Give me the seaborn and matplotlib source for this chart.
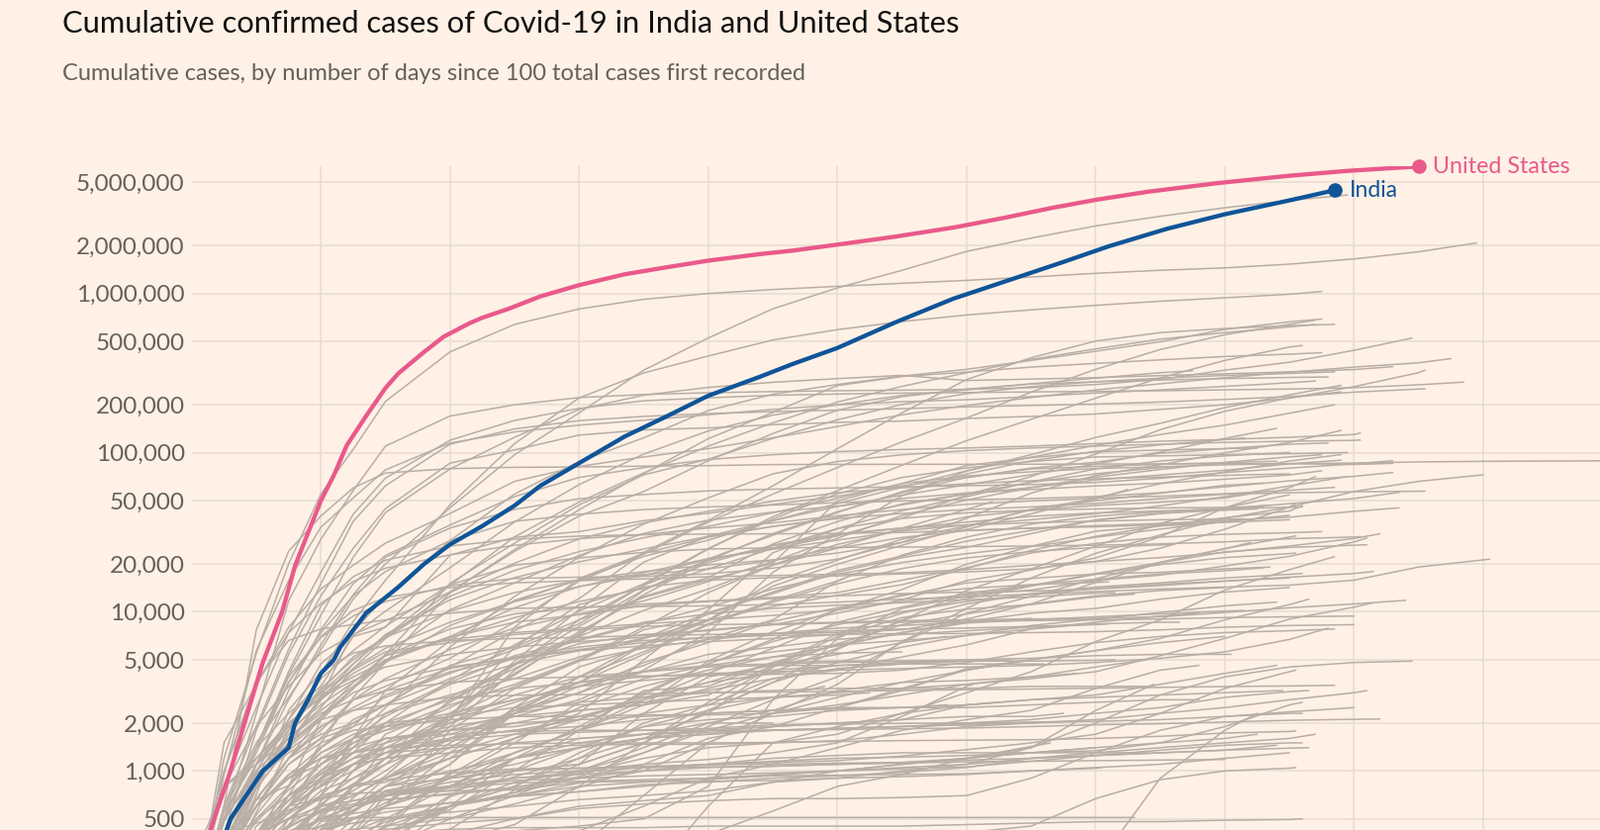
import matplotlib
matplotlib.use("Agg")
import matplotlib.pyplot as plt
import matplotlib.ticker as mticker
import seaborn as sns
import pandas as pd

# ---------------- text ----------------
title_text = "Cumulative confirmed cases of Covid-19 in India and United States"
subtitle_text = "Cumulative cases, by number of days since 100 total cases first recorded"

y_ticks = [500, 1000, 2000, 5000, 10000, 20000, 50000, 100000, 200000,
           500000, 1000000, 2000000, 5000000]
y_tick_labels = ["500", "1,000", "2,000", "5,000", "10,000", "20,000", "50,000",
                 "100,000", "200,000", "500,000", "1,000,000", "2,000,000", "5,000,000"]
x_grid_days = [20, 40, 60, 80, 100, 120, 140, 160, 180, 200]

# ---------------- highlighted series ----------------
us_days = [0, 3, 6, 8, 11, 14, 16, 20, 22, 24, 27, 30, 32, 36, 39, 43, 45, 49, 54, 60,
           67, 73, 80, 88, 93, 100, 109, 118, 126, 133, 140, 148, 159, 170, 179, 190]
us_cases = [100, 440, 1000, 1900, 4800, 10000, 19500, 50000, 72000, 111000, 170000,
            255000, 315000, 430000, 535000, 650000, 705000, 800000, 960000, 1130000,
            1320000, 1450000, 1610000, 1770000, 1860000, 2030000, 2280000, 2600000,
            3000000, 3440000, 3880000, 4360000, 4950000, 5500000, 5900000, 6290000]

india_days = [0, 6, 11, 15, 16, 18, 20, 22, 23, 27, 32, 36, 40, 45, 50, 54, 60, 67, 73,
              80, 88, 93, 100, 109, 118, 127, 135, 142, 151, 160, 170, 177]
india_cases = [100, 500, 1000, 1400, 2000, 2800, 4100, 5000, 6000, 9800, 14300, 20000,
               26500, 34600, 46500, 62000, 86000, 126000, 165000, 228000, 300000,
               360000, 455000, 660000, 930000, 1230000, 1580000, 1980000, 2550000,
               3150000, 3850000, 4460000]

# ---------------- other countries (thousands of cases) ----------------
# values at grid_days, last value is at the country's final day
grid_days = [0, 5, 10, 15, 20, 25, 30, 40, 50, 60, 70, 80, 90, 100, 110, 120, 130,
             140, 150, 160, 170, 180, 190, 200, 210, 220]

eu = [0.1,1.2,5.5,20,55,105,210,430,640,800,920,1000,1060,1110,1160,1210,1270,1340,1400,1450,1530,1650,1830,2080]
brazil = [0.1,0.6,1.5,2.9,5.8,12,20,45,97,178,330,526,802,1085,1400,1840,2230,2660,3060,3460,3850,4160]
russia = [0.1,0.3,0.8,1.8,4.1,8.7,15.8,47,114,221,317,405,511,593,667,733,790,843,895,940,990,1030]
spain = [0.1,0.5,2.3,11.7,28.6,57.8,110,170,200,222,232,238,242,245,247,250,256,268,289,330,370,440,525]
italy = [0.15,0.82,2.5,7.4,17.7,41,69.2,119.8,159.5,189.9,211.9,221.2,229.3,233.5,236.6,238.8,240.8,242.8,245,248.1,251.2,256.1,266.9,277.6]
france = [0.1,0.4,1.8,5.4,12.6,25,44.5,86,104,129,139,143,150,155,158,164,169,175,187,200,220,260,318,330]
iran = [0.1,1.5,3.5,8.0,13.9,19.6,27,41.5,66,82,94,106,124,146,173,198,222,248,271,296,320,345,367,390]
uk = [0.1,0.5,1.4,4,9.5,22,42,79,125,187,230,257,277,292,306,284,290,296,305,313,322,333,347]
germany = [0.12,0.8,1.9,5.8,15,37,62,113,141,159,169,176,181,185,189,194,198,202,208,216,225,240,251,252]
turkey = [0.1,0.95,5.7,15.7,34,52,78,115,135,149,160,173,187,200,209,215,225,237,248,261,275,282]
chile = [0.1,0.6,1.9,3.4,5.5,7.2,8.8,13.3,24.6,43.8,74,122.5,179,264,301,321,345,364,383,402,416,425]
mexico = [0.12,0.32,0.85,1.5,2.8,4.7,7.0,14.7,29.6,49,74.6,110,154,208,261,318,385,449,517,568,617,640]
peru = [0.12,0.4,0.95,1.4,2.9,7.5,12.5,28,55,88,124,184,233,268,303,334,380,434,498,595,664,691]
colombia = [0.1,0.3,0.6,1.1,1.6,2.8,3.4,5.1,8.6,15.6,23,36.6,54.9,80.6,117,165,240,334,445,551,641,680]
south_africa = [0.1,0.4,0.9,1.3,1.7,2.0,2.6,4.5,7.6,12.1,23.6,37.5,61.9,106,178,288,395,503,568,603,628,640]
argentina = [0.13,0.5,0.97,1.35,1.9,2.4,2.9,4.1,5.8,8.4,14.7,24.8,39.6,57.7,83.4,119,162,220,295,380,461,472]
saudi = [0.1,0.27,0.77,1.45,2.2,3.3,5.4,15.1,27,47,72.6,91,123,161,201,235,260,279,294,306,315,322]
pakistan = [0.19,0.8,1.2,1.9,3.3,5.0,6.9,13.3,24,40,57,89,132,185,225,251,270,279,286,292,297,299]
bangladesh = [0.12,0.33,1.0,2.1,4.7,7.1,10.1,18.9,36.7,63,98,137,172,200,229,248,271,294,318,327]
qatar = [0.26,0.4,0.47,0.54,0.7,1.6,2.5,6.0,12.5,22,35.6,52,73.6,88,97,103,107,110,113,116,118,119.5,120]
belgium = [0.17,0.4,1.1,2.8,6.2,12.8,22,33.6,44,51.4,54.6,57.5,59,60,61,62,63,65,69,75,80,85,89]
netherlands = [0.13,0.5,1.4,3.6,7.4,12.6,17.9,28,37,41,43.9,45.6,46.9,48.5,49.7,50.6,51.5,53,56,61,66.5,71,75]
sweden = [0.1,0.5,1.0,1.6,2.5,4.4,6.8,12.5,18.2,23.9,29.2,34.4,41.9,51.6,63.9,71.4,75.8,79.5,81.5,83.9,85.4,84.3,85.7]
switzerland = [0.1,0.5,1.4,4.2,10.9,16.6,21.1,25.9,28.6,29.9,30.5,30.8,30.9,31.1,31.5,32.5,33.6,34.8,35.9,37.4,39.3,42.8,45]
canada = [0.1,0.4,1.1,3.2,7.7,15,22.6,35.1,53,69.9,80.5,90.5,97.1,101.6,104.7,107,110,114,118,121,125,130,133]
portugal = [0.17,1.0,3.5,7.4,11.3,15.5,18.8,22.8,26.2,28.8,30.6,33.6,36.2,40.1,43.9,47.4,49.7,51.8,53.2,55.2,58,60.5]
israel = [0.13,0.57,1.4,3.9,6.9,9.4,11.6,14.6,16.2,16.5,16.7,17.3,18.8,21.4,27.3,38.7,55.7,71.9,84,99.8,116,138]
philippines = [0.11,0.22,0.55,1.4,3.0,3.9,4.9,6.9,9.2,11.6,14,18.6,25,30,38.8,54.2,70.8,98,139.5,182,221,241]
indonesia = [0.12,0.37,0.79,1.4,2.1,3.3,4.8,8.2,11.6,16,22.3,28.2,37.4,47.9,60.7,76.9,93.7,111,130,149,177,200]
iraq = [0.11,0.16,0.32,0.55,0.82,1.1,1.4,1.7,2.2,2.8,4.3,7.4,17.7,30.9,53.7,76.6,97.2,124.6,153,192,231,265]
ukraine = [0.11,0.48,1.1,1.9,3.1,4.7,7.2,11.9,16.4,20.6,24.8,29.8,37.4,45.9,54.1,62.9,72.7,84.7,101,123,142]
egypt = [0.11,0.2,0.37,0.54,0.87,1.3,2.0,3.7,6.2,10.1,15,25,38.3,55.2,69.8,80.2,88,94,95.5,97,98.5,100.2]
kazakhstan = [0.11,0.34,0.66,0.81,1.4,2.0,2.6,4.6,6.0,8.9,12.3,15.9,20.2,49.7,64,83,93,101,104,106,106.7]
oman = [0.1,0.15,0.25,0.37,0.6,1.0,1.7,2.5,4.0,7.3,12.8,21,31,42.5,56,70,79,82,84.5,86.6,88.3]
kuwait = [0.1,0.13,0.19,0.25,0.42,0.8,1.4,2.2,4.9,10.3,20.5,29.9,34.4,39.1,47,54.9,60.4,67.4,72.4,77.5,85,89.7]
uae = [0.11,0.2,0.4,0.8,2.1,3.3,5.4,10.3,15.2,22.6,31.1,37.6,42.3,46.1,51.5,55.8,58.6,61.8,64.3,68.1,72.4,76.9]
ecuador = [0.11,0.5,1.4,2.3,3.4,7.0,8.0,22.7,29.4,31.9,37.4,41.6,47.3,53.2,61.9,69.6,80,87,99.3,106,113,115]
bolivia = [0.11,0.16,0.21,0.35,0.52,0.8,1.1,2.3,4.1,7.1,13.6,21.5,30.3,42.1,56.8,73.5,88.9,102,112,121,124]
dominican = [0.11,0.3,1.1,1.8,2.6,3.6,5.0,7.0,10.6,14.4,16.9,21.4,25.1,33.4,43.1,52.9,65.6,79,88.6,95.5,100.4]
panama = [0.11,0.3,0.67,1.2,1.8,2.8,3.8,5.8,7.9,9.7,11.7,15.5,20.7,29,40.3,50.4,60.3,70.2,78.4,86.9,94.1,97.1]
guatemala = [0.13,0.18,0.26,0.4,0.56,0.75,1.0,1.9,4.3,7.5,12.5,16.4,26.7,36.9,47.6,55.3,65,73.7,80.5,81.7]
honduras = [0.1,0.2,0.3,0.36,0.41,0.5,0.63,1.1,2.3,3.9,6.3,8.9,15.4,21.1,28.6,34.6,43.8,49.9,55.6,62.4,64.4]
costa_rica = [0.11,0.2,0.35,0.45,0.56,0.62,0.66,0.72,0.79,0.91,1.0,1.5,2.3,3.5,6.5,10.5,16.3,23.3,30.4,38.7,45.5,47.8]
australia = [0.11,0.25,0.71,2.4,4.2,5.5,6.1,6.6,6.8,6.9,7.1,7.2,7.3,7.4,7.7,9.0,11.2,15.3,20.3,23.8,25.4,26.2,26.4]
japan = [0.1,0.16,0.25,0.46,0.62,0.83,1.1,2.2,6.0,11.1,14.3,15.8,16.4,16.8,17.3,17.8,18.6,20.7,25.1,33,45.5,57,66,72.6]
south_korea = [0.1,0.98,3.7,6.6,7.8,8.3,8.9,9.8,10.5,10.7,10.8,10.9,11.1,11.5,12.0,12.4,12.9,13.4,13.9,14.3,14.7,15.8,19.1,21.2,21.4]
china = [0.1,0.6,7.7,24,40,60,74.5,79.4,80.9,81.3,82.3,82.9,84.2,84.4,84.5,84.5,84.6,84.8,85.0,85.2,85.3,86.0,87.5,88.2,88.6,88.9,89.2]
singapore = [0.11,0.13,0.17,0.24,0.43,0.68,0.93,2.1,8.0,16.2,23.3,29.4,34.4,38.5,41.5,43.9,45.6,47.9,51.5,54.8,56,56.8,57.2,57.3]
austria = [0.1,0.5,1.3,3.6,7.0,10.2,12.3,14.2,15.2,15.7,16.1,16.6,16.9,17.2,17.6,18.4,19.6,20.7,21.9,23.6,25.9,28.9,30.9]
denmark = [0.26,0.8,1.1,1.6,2.4,3.4,4.9,6.9,8.6,9.6,10.9,11.6,12.1,12.6,13.0,13.3,13.5,13.9,14.6,15.6,16.5,17.4,17.9]
norway = [0.1,0.4,1.1,1.9,3.1,4.3,5.6,6.4,7.2,7.7,8.1,8.3,8.4,8.6,8.8,8.9,9.0,9.1,9.3,9.9,10.6,11.2,11.8]
ireland = [0.13,0.37,1.1,2.1,3.8,5.7,8.1,14.8,19.6,21.8,23.6,24.8,25.2,25.4,25.5,25.7,25.9,26.2,26.7,27.5,28.8,29.5,29.7]
poland = [0.1,0.4,0.9,2.0,2.9,4.4,5.9,8.6,11.6,14.4,17.6,21.6,24.7,28.2,32.2,35.1,37.9,41.4,46.3,52.9,61.8,70.8]
romania = [0.12,0.3,0.8,1.8,3.2,5.2,6.9,10.1,13.2,15.8,17.9,19.7,21.2,23.4,27.3,32.9,41.3,52.2,63.8,75.7,88.6,97.3]
czechia = [0.1,0.3,0.8,1.7,2.8,4.1,5.3,6.7,7.4,7.9,8.4,8.9,9.5,10.3,11.6,12.8,13.7,15.7,17.0,19.4,22.3,27.5,29.1]
serbia = [0.1,0.25,0.66,1.2,2.2,3.6,5.3,7.8,9.7,10.6,11.2,11.7,12.3,13.2,15.8,18.9,23.4,26.9,29.5,30.7,31.4,31.9]
belarus = [0.1,0.15,0.3,0.7,1.5,2.9,4.8,13.2,20.2,28.7,36.2,42.8,49.5,56.0,60.1,63.8,66.6,68.5,70.3,72.0,73.6]
moldova = [0.1,0.2,0.4,0.8,1.4,2.1,2.6,3.8,5.1,6.6,8.4,10.7,13.9,17.2,20.4,23.2,25.7,29.4,33.1,36.8,40.4]
morocco = [0.1,0.2,0.4,0.65,1.1,1.6,2.2,3.5,4.7,6.3,7.2,7.6,8.3,9.8,11.9,15.7,18.3,21.8,29.6,45.1,60.2,70.7]
algeria = [0.1,0.26,0.6,1.2,1.6,1.9,2.3,3.0,3.8,5.2,6.8,8.9,10.8,12.7,14.8,18.7,24.3,29.8,34.7,39.0,43.0,46.4]
nigeria = [0.11,0.2,0.3,0.35,0.5,0.8,1.2,2.8,4.4,7.0,10.2,13.9,19.8,26.5,32.6,39.5,43.5,46.6,48.8,51.9,55.2]
ghana = [0.14,0.17,0.26,0.38,0.6,1.0,1.3,2.1,4.7,5.7,6.8,9.9,13.0,17.7,21.9,25.4,31.0,37.8,41.7,43.5,44.3]
kenya = [0.11,0.17,0.2,0.25,0.3,0.35,0.4,0.7,1.2,1.9,3.1,4.7,6.7,10.3,13.8,19.9,25.8,32.1,34.7,35.6]
ethiopia = [0.1,0.11,0.13,0.2,0.26,0.4,0.6,1.3,2.5,4.5,6.0,8.8,14.5,19.9,26.2,34.1,44.1,51.1,58.7]
cameroon = [0.1,0.14,0.23,0.5,0.68,0.8,0.85,1.2,2.3,3.1,4.8,6.4,8.7,10.6,12.6,15.2,16.2,17.3,17.7,18.6,19.1]
senegal = [0.1,0.12,0.19,0.26,0.29,0.34,0.44,0.95,1.6,2.5,3.4,4.3,5.2,6.1,7.4,8.7,9.8,10.5,12.0,13.3,14.2]
ivory_coast = [0.1,0.17,0.26,0.44,0.57,0.7,0.9,1.3,1.7,2.2,2.8,4.1,5.9,8.6,10.7,13.0,14.8,16.0,17.3,18.1,18.9]
dr_congo = [0.1,0.15,0.18,0.24,0.29,0.33,0.4,0.57,1.0,1.8,2.8,3.6,4.8,6.2,7.4,8.5,8.9,9.3,9.7,10.1,10.2]
madagascar = [0.1,0.12,0.13,0.19,0.24,0.3,0.46,0.98,1.3,1.8,2.6,4.9,7.5,10.3,12.8,14.0,14.8,15.3,15.4]
sudan = [0.1,0.16,0.3,0.45,0.9,1.4,2.3,3.6,5.3,6.7,8.6,9.7,10.5,11.0,11.4,11.9,12.4,13.1,13.2]
zambia = [0.1,0.11,0.12,0.14,0.27,0.45,0.75,0.92,1.1,1.4,1.6,2.3,4.5,7.0,9.2,10.4,11.1,12.4,12.9]
uganda = [0.1,0.14,0.2,0.26,0.42,0.6,0.7,0.85,0.95,1.0,1.1,1.18,1.3,1.5,2.2,3.4,3.5]
mozambique = [0.1,0.12,0.14,0.2,0.23,0.25,0.3,0.6,0.73,0.9,1.1,1.6,1.9,2.5,3.3,4.3,4.9]
zimbabwe = [0.1,0.13,0.17,0.22,0.31,0.38,0.48,0.6,0.73,1.1,2.3,3.9,4.6,5.4,6.4,7.0]
namibia = [0.1,0.13,0.2,0.3,0.54,0.8,1.2,2.2,3.4,4.9,7.7,8.5]
nepal = [0.1,0.22,0.3,0.45,0.9,1.6,3.2,6.6,11.8,15.9,17.1,18.6,21,25.3,33.5,44,49.2]
sri_lanka = [0.1,0.12,0.16,0.19,0.2,0.24,0.33,0.69,0.92,1.2,1.6,1.8,1.9,2.0,2.1,2.6,2.8,2.9,3.0,3.1,3.2]
vietnam = [0.1,0.14,0.2,0.24,0.26,0.27,0.27,0.27,0.29,0.32,0.33,0.34,0.35,0.37,0.38,0.41,0.45,0.67,0.88,1.0,1.04,1.05]
thailand = [0.11,0.32,0.93,1.5,2.1,2.4,2.6,2.9,2.99,3.02,3.05,3.1,3.13,3.16,3.2,3.24,3.27,3.31,3.35,3.39,3.42,3.45]
malaysia = [0.13,0.55,1.2,2.0,2.9,3.7,4.5,5.4,6.0,6.5,6.9,7.7,8.3,8.5,8.6,8.7,8.8,8.9,9.0,9.2,9.3,9.4]
new_zealand = [0.1,0.28,0.6,0.95,1.2,1.3,1.4,1.45,1.48,1.5,1.5,1.5,1.51,1.53,1.55,1.56,1.57,1.6,1.65,1.73,1.77,1.78]
iceland = [0.1,0.2,0.45,0.65,0.96,1.3,1.6,1.7,1.77,1.8,1.8,1.8,1.8,1.82,1.84,1.86,1.9,1.95,1.98,2.03,2.08,2.11,2.12]
greece = [0.1,0.23,0.5,0.8,1.3,1.7,2.0,2.2,2.5,2.6,2.7,2.8,2.9,3.1,3.3,3.5,3.8,4.2,5.3,6.8,9.0,10.7,11.4]
finland = [0.1,0.3,0.6,1.2,1.9,2.5,3.2,4.4,5.2,6.0,6.6,6.9,7.1,7.2,7.3,7.3,7.4,7.5,7.7,8.0,8.2,8.3]
hungary = [0.1,0.2,0.4,0.6,1.0,1.5,2.0,2.8,3.3,3.6,3.9,4.1,4.2,4.3,4.4,4.5,4.6,4.8,5.1,5.6,6.7,7.9]
croatia = [0.1,0.3,0.6,1.1,1.5,1.8,1.9,2.1,2.2,2.2,2.25,2.25,2.3,2.5,3.2,4.4,5.0,5.7,6.8,8.9,11.1,12.0]
bulgaria = [0.1,0.2,0.4,0.5,0.75,0.9,1.1,1.6,2.0,2.4,2.6,3.3,4.2,5.9,8.9,11.2,13.0,14.3,15.2,16.3,17.2,17.4]
bosnia = [0.1,0.3,0.5,0.7,1.0,1.3,1.5,1.9,2.2,2.4,2.6,3.0,4.6,7.3,9.8,12.1,14.5,17.2,19.8,21.9,23.2,23.4]
north_macedonia = [0.1,0.2,0.4,0.6,0.9,1.2,1.4,1.6,1.8,2.1,3.0,4.7,6.5,8.3,10.0,11.6,12.9,14.0,14.9,15.6,16.3]
albania = [0.1,0.2,0.3,0.4,0.5,0.6,0.7,0.8,1.0,1.1,1.5,2.4,3.6,4.8,6.0,7.1,8.2,9.0,9.9,10.9,11.5]
armenia = [0.1,0.3,0.6,0.9,1.1,1.4,1.9,2.9,4.6,8.9,14.7,21.0,26.0,30.3,33.6,36.6,39.8,41.8,43.0,44.3,45.4,45.6]
azerbaijan = [0.1,0.27,0.6,0.9,1.3,1.6,1.8,2.6,3.5,5.0,8.0,13.2,19.6,25.1,29.3,32.4,33.5,34.2,35.2,36.5,37.9]
kyrgyzstan = [0.1,0.2,0.3,0.4,0.6,0.7,0.9,1.2,1.6,2.3,5.0,10.3,23.5,33.3,38.6,41.9,43.5,44.3,44.9,45.3,45.6]
uzbekistan = [0.1,0.2,0.4,0.6,1.2,1.6,1.9,2.3,2.8,3.4,4.6,6.8,8.9,15.6,22.7,29.5,35.6,39.9,42.5,44.7,46.8]
afghanistan = [0.1,0.2,0.3,0.5,0.7,1.1,1.5,2.7,4.7,8.1,13.7,20.3,26.3,30.9,33.6,35.1,36.3,37.1,37.9,38.2,38.4]
lebanon = [0.1,0.25,0.4,0.5,0.55,0.6,0.66,0.71,0.78,0.96,1.2,1.4,1.5,1.7,2.3,3.1,4.2,6.5,8.9,13.7,18.4,22.2]
jordan = [0.1,0.2,0.27,0.35,0.4,0.43,0.45,0.5,0.62,0.79,1.05,1.1,1.15,1.2,1.22,1.25,1.3,1.34,1.5,1.9,2.6,2.7]
bahrain = [0.1,0.2,0.23,0.33,0.45,0.57,0.69,1.1,2.5,3.6,6.2,9.7,13.3,18.2,22.4,27.8,32.5,37.6,41.4,44.2,47.8,51.5,56.3]
tunisia = [0.1,0.22,0.39,0.57,0.66,0.82,0.88,0.97,1.03,1.04,1.07,1.09,1.13,1.16,1.24,1.36,1.5,1.7,2.3,3.3,4.2,4.3]
cuba = [0.1,0.2,0.35,0.6,0.8,1.0,1.3,1.6,1.8,1.9,2.1,2.3,2.4,2.45,2.5,2.6,2.8,3.0,3.5,4.1,4.6]
venezuela = [0.1,0.13,0.17,0.18,0.2,0.26,0.3,0.36,0.46,0.8,1.5,2.4,3.6,5.8,8.8,13.6,18.6,25.8,36.0,45.0,54.4]
paraguay = [0.1,0.13,0.16,0.2,0.21,0.22,0.24,0.43,0.76,0.92,1.3,1.9,2.8,3.9,6.4,9.8,12.5,16.1,20.5,24.8,27.3]
uruguay = [0.1,0.19,0.34,0.42,0.49,0.54,0.58,0.63,0.69,0.74,0.82,0.85,0.9,0.93,0.98,1.05,1.2,1.3,1.4,1.5,1.6,1.7]
el_salvador = [0.1,0.14,0.2,0.27,0.37,0.56,0.8,1.5,2.4,3.6,5.4,8.3,11.5,15.0,18.7,21.8,23.9,25.4,26.3,26.5]
haiti = [0.1,0.12,0.15,0.2,0.3,0.45,0.6,1.8,3.3,4.9,5.9,6.7,7.3,7.6,7.8,7.9,8.1,8.3,8.4]
jamaica = [0.1,0.14,0.2,0.29,0.43,0.47,0.5,0.55,0.6,0.66,0.7,0.75,0.85,0.9,1.0,1.1,1.4,2.4,3.5]
trinidad = [0.1,0.1,0.11,0.11,0.11,0.11,0.11,0.11,0.12,0.12,0.12,0.13,0.13,0.13,0.14,0.15,0.17,0.25,0.9,1.8,2.3]
libya = [0.1,0.2,0.39,0.5,0.7,0.8,0.9,1.4,2.3,3.9,5.6,8.4,11.8,15.6,16.2]
syria = [0.1,0.12,0.16,0.19,0.25,0.3,0.37,0.6,0.8,1.3,1.9,2.4,2.9,3.4]
malawi = [0.1,0.1,0.2,0.4,0.45,0.5,0.6,0.9,1.5,2.7,3.8,4.6,5.2,5.5,5.6]
rwanda = [0.1,0.12,0.14,0.15,0.19,0.23,0.26,0.3,0.35,0.42,0.6,0.9,1.1,1.4,1.8,2.1,2.4,3.3,4.3,4.6]
mali = [0.1,0.15,0.2,0.3,0.4,0.5,0.6,0.8,1.0,1.4,1.9,2.1,2.2,2.4,2.5,2.5,2.6,2.7,2.8,2.8]
guinea = [0.1,0.16,0.25,0.36,0.6,1.0,1.5,2.0,2.7,3.6,4.2,4.9,5.6,6.2,6.6,7.1,7.8,8.6,9.4,9.8]
gabon = [0.1,0.12,0.16,0.2,0.4,0.6,0.9,1.6,2.4,3.1,4.2,5.4,6.0,6.7,7.2,7.6,8.0,8.4,8.6,8.6]
tajikistan = [0.1,0.4,0.9,1.5,2.2,3.1,3.7,4.5,5.1,5.8,6.4,6.9,7.3,7.9,8.2,8.6,9.1]
georgia = [0.1,0.13,0.19,0.27,0.35,0.42,0.5,0.6,0.7,0.74,0.8,0.88,0.94,1.0,1.1,1.2,1.3,1.4,1.5,1.6,1.7]
lithuania = [0.1,0.2,0.4,0.7,0.95,1.2,1.3,1.4,1.5,1.6,1.7,1.75,1.8,1.85,1.9,2.0,2.1,2.3,2.5,2.9,3.15,3.2]
slovenia = [0.1,0.25,0.4,0.7,0.9,1.1,1.2,1.3,1.4,1.45,1.47,1.47,1.5,1.55,1.7,1.9,2.0,2.1,2.3,2.5,2.8,3.1,3.2]
estonia = [0.1,0.25,0.4,0.7,0.85,1.1,1.3,1.55,1.7,1.75,1.8,1.85,1.95,1.97,1.99,2.0,2.03,2.05,2.1,2.2,2.35,2.5]
latvia = [0.1,0.2,0.35,0.45,0.55,0.65,0.72,0.8,0.9,0.98,1.05,1.1,1.1,1.12,1.13,1.17,1.2,1.25,1.3,1.35,1.39,1.4]
luxembourg = [0.1,0.35,0.9,1.6,2.3,2.8,3.2,3.6,3.8,3.9,3.95,4.0,4.05,4.1,4.3,4.8,5.6,6.4,7.0,7.4,7.6,7.8]
cyprus = [0.1,0.15,0.26,0.39,0.5,0.6,0.7,0.8,0.87,0.9,0.93,0.95,0.97,1.0,1.03,1.06,1.15,1.25,1.35,1.45,1.5,1.5]
palestine = [0.1,0.12,0.2,0.26,0.3,0.33,0.36,0.4,0.42,0.45,0.5,0.8,2.8,6.8,10.5,12.5,14.6,17.4,20.4,25.0,29.5,30.0]
hong_kong = [0.1,0.12,0.14,0.16,0.26,0.41,0.7,0.9,1.01,1.04,1.05,1.06,1.07,1.1,1.13,1.2,1.4,2.0,3.0,3.9,4.5,4.8,4.9]
taiwan = [0.1,0.17,0.28,0.34,0.38,0.39,0.4,0.43,0.44,0.44,0.44,0.45,0.45,0.45,0.45,0.46,0.47,0.48,0.48,0.49,0.495,0.5]
montenegro = [0.1,0.2,0.25,0.28,0.31,0.31,0.32,0.32,0.32,0.33,0.7,1.5,2.3,2.9,3.6,4.3,5.0,5.7,6.4,7.0]
kosovo = [0.1,0.18,0.28,0.4,0.5,0.6,0.8,0.9,1.0,1.1,1.5,2.7,4.5,6.3,8.3,9.7,11.2,12.6,13.6,14.2]
somalia = [0.1,0.2,0.4,0.6,0.8,1.1,1.4,1.8,2.3,2.7,2.9,3.1,3.2,3.3,3.3,3.3,3.4,3.4,3.4]
djibouti = [0.1,0.2,0.4,0.6,0.9,1.1,1.2,1.4,2.3,3.4,4.2,4.6,4.7,4.8,4.9,5.0,5.1,5.3,5.4,5.4,5.4]
eq_guinea = [0.1,0.15,0.26,0.3,0.32,0.5,0.6,0.9,1.3,1.8,3.2,3.4,4.8,4.9,4.9,4.9,4.9,4.95,5.0]
burkina_faso = [0.1,0.15,0.25,0.35,0.45,0.5,0.55,0.63,0.7,0.8,0.85,0.9,0.95,1.0,1.05,1.1,1.2,1.25,1.3,1.35,1.45]
niger = [0.1,0.25,0.4,0.5,0.6,0.65,0.7,0.75,0.9,0.95,1.0,1.05,1.07,1.1,1.12,1.14,1.15,1.16,1.17,1.18]
sierra_leone = [0.1,0.14,0.2,0.3,0.4,0.5,0.6,0.8,1.2,1.4,1.6,1.7,1.8,1.85,1.9,1.95,2.0,2.05]
chad = [0.1,0.2,0.3,0.4,0.5,0.6,0.7,0.78,0.84,0.86,0.88,0.9,0.93,0.94,0.95,0.96,1.0,1.04,1.05]
liberia = [0.1,0.13,0.14,0.2,0.24,0.28,0.33,0.5,0.7,0.84,1.0,1.1,1.2,1.25,1.3,1.3,1.3,1.3,1.3]
mauritania = [0.1,0.26,0.53,0.94,1.4,1.9,3.0,4.2,5.1,5.7,6.1,6.5,6.8,7.2,7.4]
central_african_rep = [0.1,0.14,0.2,0.3,0.65,0.9,1.2,2.0,3.0,3.9,4.2,4.5,4.6,4.6,4.7,4.7,4.7]
south_sudan = [0.1,0.2,0.3,0.6,0.9,1.2,1.6,1.8,2.0,2.1,2.2,2.3,2.4,2.5,2.5,2.6]
eswatini = [0.1,0.17,0.2,0.25,0.3,0.3,0.4,0.6,0.8,1.2,2.0,2.6,3.8,4.4,4.7,4.9,5.0]
botswana = [0.1,0.2,0.3,0.4,0.5,0.55,0.75,0.8,1.2,1.6,1.7,2.0,2.0]
angola = [0.1,0.13,0.15,0.2,0.28,0.35,0.5,0.8,1.3,1.8,2.3,2.6,2.9,3.0,3.1]
congo = [0.1,0.14,0.2,0.23,0.25,0.3,0.4,0.6,0.7,1.0,1.4,2.0,2.4,3.2,3.6,3.7,3.9,4.5,5.0]
cape_verde = [0.1,0.12,0.14,0.2,0.3,0.35,0.4,0.6,0.85,1.0,1.3,1.8,2.3,2.6,3.0,3.5,3.9,4.1]
maldives = [0.1,0.3,0.6,0.9,1.2,1.4,1.6,1.8,1.9,2.2,2.7,3.2,3.8,4.3,5.2,6.2,7.8,8.3]
tanzania = [0.1,0.15,0.3,0.3,0.48,0.51,0.51,0.51,0.51,0.51,0.51,0.51,0.51,0.51,0.51,0.51,0.51,0.51,0.51]
yemen = [0.1,0.13,0.2,0.25,0.4,0.6,0.8,1.0,1.2,1.4,1.6,1.7,1.8,1.85,1.9,1.95,2.0]
malta = [0.1,0.15,0.2,0.3,0.35,0.4,0.43,0.47,0.5,0.58,0.62,0.65,0.67,0.67,0.68,0.7,0.9,1.3,1.8,2.2,2.3,2.3]
andorra = [0.1,0.27,0.4,0.6,0.67,0.72,0.74,0.75,0.76,0.85,0.86,0.86,0.87,0.9,0.92,0.95,1.0,1.05,1.1,1.2,1.3]
nicaragua = [0.1,0.26,0.48,0.76,1.1,1.5,1.8,2.2,2.8,3.4,3.7,4.0,4.3,4.6,4.8,4.9]
guyana = [0.1,0.1,0.11,0.13,0.14,0.15,0.15,0.2,0.24,0.28,0.34,0.4,0.56,0.8,0.95,1.2,1.5]
suriname = [0.1,0.16,0.2,0.3,0.4,0.55,0.8,1.2,1.6,2.1,2.9,3.6,4.1,4.6]
benin = [0.1,0.11,0.3,0.33,0.34,0.35,0.45,0.6,1.2,1.5,1.7,1.8,1.9,2.0,2.1,2.2,2.2,2.3]
togo = [0.1,0.11,0.12,0.15,0.2,0.3,0.35,0.4,0.5,0.6,0.65,0.7,0.85,1.0,1.1,1.2,1.3,1.4]
bahamas = [0.1,0.1,0.1,0.1,0.1,0.1,0.1,0.1,0.1,0.11,0.2,0.6,1.5,1.9,2.3,2.6,2.7]

grey_names = [
    "Europe", "Brazil", "Russia", "Spain", "Italy", "France", "Iran", "UK", "Germany",
    "Turkey", "Chile", "Mexico", "Peru", "Colombia", "South Africa", "Argentina",
    "Saudi Arabia", "Pakistan", "Bangladesh", "Qatar", "Belgium", "Netherlands",
    "Sweden", "Switzerland", "Canada", "Portugal", "Israel", "Philippines", "Indonesia",
    "Iraq", "Ukraine", "Egypt", "Kazakhstan", "Oman", "Kuwait", "UAE", "Ecuador",
    "Bolivia", "Dominican Republic", "Panama", "Guatemala", "Honduras", "Costa Rica",
    "Australia", "Japan", "South Korea", "China", "Singapore", "Austria", "Denmark",
    "Norway", "Ireland", "Poland", "Romania", "Czechia", "Serbia", "Belarus", "Moldova",
    "Morocco", "Algeria", "Nigeria", "Ghana", "Kenya", "Ethiopia", "Cameroon", "Senegal",
    "Ivory Coast", "DR Congo", "Madagascar", "Sudan", "Zambia", "Uganda", "Mozambique",
    "Zimbabwe", "Namibia", "Nepal", "Sri Lanka", "Vietnam", "Thailand", "Malaysia",
    "New Zealand", "Iceland", "Greece", "Finland", "Hungary", "Croatia", "Bulgaria",
    "Bosnia", "North Macedonia", "Albania", "Armenia", "Azerbaijan", "Kyrgyzstan",
    "Uzbekistan", "Afghanistan", "Lebanon", "Jordan", "Bahrain", "Tunisia", "Cuba",
    "Venezuela", "Paraguay", "Uruguay", "El Salvador", "Haiti", "Jamaica", "Trinidad",
    "Libya", "Syria", "Malawi", "Rwanda", "Mali", "Guinea", "Gabon", "Tajikistan",
    "Georgia", "Lithuania", "Slovenia", "Estonia", "Latvia", "Luxembourg", "Cyprus",
    "Palestine", "Hong Kong", "Taiwan", "Montenegro", "Kosovo", "Somalia", "Djibouti",
    "Equatorial Guinea", "Burkina Faso", "Niger", "Sierra Leone", "Chad", "Liberia",
    "Mauritania", "Central African Rep.", "South Sudan", "Eswatini", "Botswana", "Angola",
    "Congo", "Cape Verde", "Maldives", "Tanzania", "Yemen", "Malta", "Andorra",
    "Nicaragua", "Guyana", "Suriname", "Benin", "Togo", "Bahamas"]
grey_series = [
    eu, brazil, russia, spain, italy, france, iran, uk, germany,
    turkey, chile, mexico, peru, colombia, south_africa, argentina,
    saudi, pakistan, bangladesh, qatar, belgium, netherlands,
    sweden, switzerland, canada, portugal, israel, philippines, indonesia,
    iraq, ukraine, egypt, kazakhstan, oman, kuwait, uae, ecuador,
    bolivia, dominican, panama, guatemala, honduras, costa_rica,
    australia, japan, south_korea, china, singapore, austria, denmark,
    norway, ireland, poland, romania, czechia, serbia, belarus, moldova,
    morocco, algeria, nigeria, ghana, kenya, ethiopia, cameroon, senegal,
    ivory_coast, dr_congo, madagascar, sudan, zambia, uganda, mozambique,
    zimbabwe, namibia, nepal, sri_lanka, vietnam, thailand, malaysia,
    new_zealand, iceland, greece, finland, hungary, croatia, bulgaria,
    bosnia, north_macedonia, albania, armenia, azerbaijan, kyrgyzstan,
    uzbekistan, afghanistan, lebanon, jordan, bahrain, tunisia, cuba,
    venezuela, paraguay, uruguay, el_salvador, haiti, jamaica, trinidad,
    libya, syria, malawi, rwanda, mali, guinea, gabon, tajikistan,
    georgia, lithuania, slovenia, estonia, latvia, luxembourg, cyprus,
    palestine, hong_kong, taiwan, montenegro, kosovo, somalia, djibouti,
    eq_guinea, burkina_faso, niger, sierra_leone, chad, liberia,
    mauritania, central_african_rep, south_sudan, eswatini, botswana, angola,
    congo, cape_verde, maldives, tanzania, yemen, malta, andorra,
    nicaragua, guyana, suriname, benin, togo, bahamas]
grey_end_days = [
    199, 179, 175, 189, 197, 191, 195, 186, 191,
    174, 175, 174, 175, 174, 177, 172,
    177, 176, 155, 181, 186, 186,
    186, 187, 181, 177, 178, 178, 177,
    178, 168, 179, 165, 168, 178, 175, 176,
    163, 170, 175, 152, 166, 171,
    182, 200, 201, 232, 191, 184, 183,
    188, 181, 179, 178, 182, 175, 170, 170,
    174, 172, 164, 165, 157, 145, 167, 170,
    166, 163, 142, 143, 146, 121, 129,
    117, 75, 124, 169, 171, 177, 180,
    171, 184, 183, 180, 176, 173, 172,
    171, 170, 168, 172, 170, 166,
    167, 163, 177, 172, 187, 171, 168,
    170, 164, 174, 152, 142, 149, 165,
    101, 98, 110, 156, 156, 156, 153, 130,
    165, 173, 182, 180, 173, 177, 172,
    171, 189, 172, 160, 160, 149, 161,
    143, 168, 160, 138, 141, 148,
    105, 132, 117, 127, 90, 105,
    148, 137, 138, 146, 126, 172, 170,
    120, 133, 100, 135, 140, 125]
CASE_UNIT = 1000

# ---------------- style ----------------
BG = "#fff1e5"
GRID = "#e8dcd2"
GREY = "#b8aea6"
PINK = "#e9598b"
BLUE = "#0f5499"
TXT = "#66605c"
FONT = ["Lato", "DejaVu Sans"]

sns.set_theme(style="white")
plt.rcParams["font.family"] = FONT
plt.rcParams["figure.facecolor"] = BG
plt.rcParams["axes.facecolor"] = BG

# ---------------- build data ----------------
rows = []
for name, vals, end in zip(grey_names, grey_series, grey_end_days):
    n = len(vals)
    pts = [(d, v) for d, v in zip(grid_days[:n - 1], vals[:n - 1]) if d < end]
    pts.append((end, vals[-1]))
    for d, v in pts:
        rows.append((name, d, v * CASE_UNIT))
grey_df = pd.DataFrame(rows, columns=["country", "day", "cases"])
us_df = pd.DataFrame({"day": us_days, "cases": us_cases})
india_df = pd.DataFrame({"day": india_days, "cases": india_cases})

# ---------------- figure ----------------
W, H = 1617, 839
fig = plt.figure(figsize=(W / 100, H / 100), dpi=100)
ax_left = 193.8 / W
ax_top = 168.0 / H
ax = fig.add_axes([ax_left, 0.0, 1 - ax_left, 1 - ax_top])
ax.set_facecolor(BG)

sns.lineplot(data=grey_df, x="day", y="cases", units="country", estimator=None,
             color=GREY, linewidth=1.1, ax=ax, legend=False, zorder=2)
sns.lineplot(data=india_df, x="day", y="cases", estimator=None, color=BLUE,
             linewidth=3.1, ax=ax, legend=False, zorder=4)
sns.lineplot(data=us_df, x="day", y="cases", estimator=None, color=PINK,
             linewidth=3.1, ax=ax, legend=False, zorder=4)

ax.set_yscale("log")
ax.set_xlim(0, 218.1)
ax.set_ylim(10 ** 2.6287, 10 ** 6.8003)
ax.set_yticks(y_ticks)
ax.set_yticklabels(y_tick_labels)
ax.yaxis.set_minor_locator(mticker.NullLocator())
ax.set_xticks(x_grid_days)
ax.set_xticklabels([])
ax.tick_params(axis="x", length=0)
ax.tick_params(axis="y", length=0, pad=5.1, labelcolor=TXT, labelsize=17)
ax.grid(True, color=GRID, linewidth=1.1)
ax.set_axisbelow(True)
for s in ax.spines.values():
    s.set_visible(False)
ax.set_xlabel("")
ax.set_ylabel("")

# end markers and labels
ax.plot([us_days[-1]], [us_cases[-1]], "o", ms=9.5, color=PINK, clip_on=False, zorder=6)
ax.plot([india_days[-1]], [india_cases[-1]], "o", ms=9.5, color=BLUE, clip_on=False, zorder=6)
us_lab = ax.annotate("United States", (us_days[-1], us_cases[-1]), xytext=(10.5, 0),
                     textcoords="offset points", ha="left", va="center", color=PINK,
                     fontsize=16, annotation_clip=False, zorder=7)
in_lab = ax.annotate("India", (india_days[-1], india_cases[-1]), xytext=(10.5, 0),
                     textcoords="offset points", ha="left", va="center", color=BLUE,
                     fontsize=16, annotation_clip=False, zorder=7)

title = fig.text(63 / W, 1 - 33.3 / H, title_text, ha="left", va="baseline",
                 color="#111111", fontsize=20)
subtitle = fig.text(63 / W, 1 - 81 / H, subtitle_text, ha="left", va="baseline",
                    color=TXT, fontsize=16)

# fit text sizes to measured widths in the reference
fig.canvas.draw()
r = fig.canvas.get_renderer()


def fit(t, target):
    for _ in range(3):
        w = t.get_window_extent(renderer=r).width
        t.set_fontsize(t.get_fontsize() * target / w)


fit(title, 907)
fit(subtitle, 749)
fit(us_lab, 138)
fit(in_lab, 49)

lab = [t for t in ax.get_yticklabels() if t.get_text() == "5,000,000"][0]
w = lab.get_window_extent(renderer=r).width
ax.tick_params(axis="y", labelsize=17 * 110 / w)

fig.savefig("out.png", dpi=100, facecolor=BG)
